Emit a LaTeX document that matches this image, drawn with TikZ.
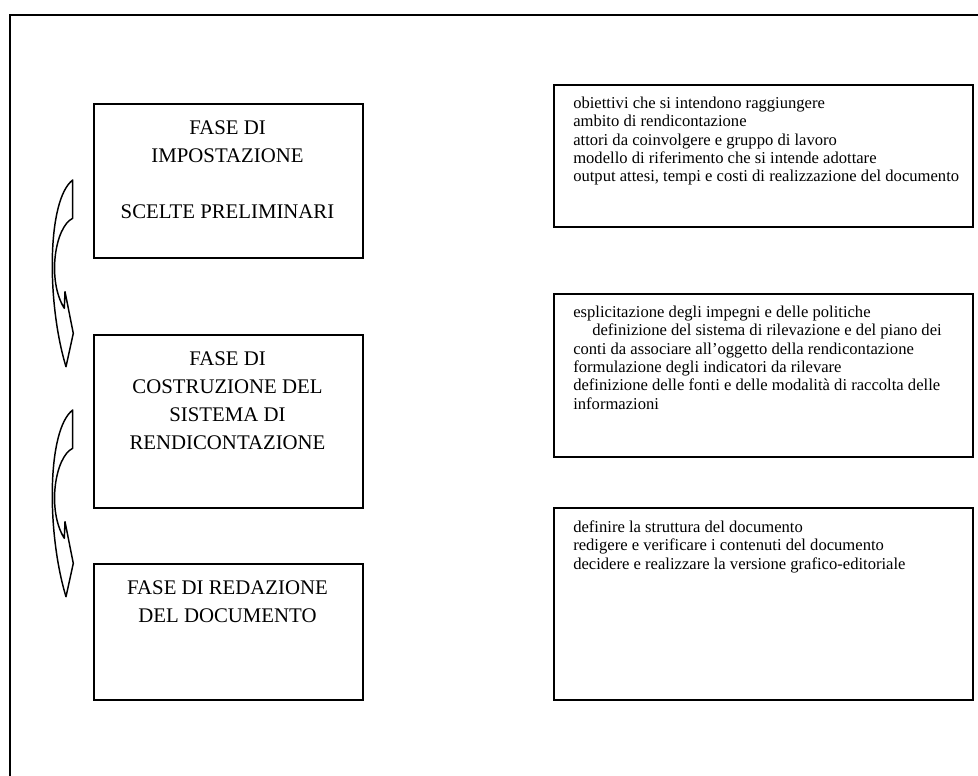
\documentclass[tikz,border=0pt]{standalone}
\usepackage{fontspec}
\setmainfont{Liberation Serif}
\begin{document}
\begin{tikzpicture}[x=0.75pt,y=-0.75pt,
  phase/.style={draw, line width=1.4pt, anchor=north west, inner sep=0pt, minimum width=201.75pt},
  phasetext/.style={anchor=north, align=center, inner sep=0pt, font=\fontsize{15.6}{21}\selectfont},
  detail/.style={draw, line width=1.4pt, anchor=north west, inner sep=0pt, minimum width=314.25pt},
  detailtext/.style={anchor=north west, align=left, inner sep=0pt, font=\fontsize{12.45}{13.75}\selectfont},
  swoosh/.style={draw, line width=1.1pt, fill=white, line join=round}]
\useasboundingbox (0,0) rectangle (978,775);
% page frame, open to the right and bottom
\begin{scope}
  \clip (0,0) rectangle (978,775);
  \draw[line width=1.4pt] (10,800) -- (10,15) -- (1000,15);
\end{scope}

% phases
\node[phase, minimum height=115.5pt] (p1) at (93,103) {};
\node[phase, minimum height=129.75pt] (p2) at (93,334) {};
\node[phase, minimum height=102pt] (p3) at (93,563) {};
\node[phasetext] (t1) at (227.5,120) {FASE DI\\IMPOSTAZIONE\\[21pt]SCELTE PRELIMINARI};
\node[phasetext] (t2) at (227.5,351) {FASE DI\\COSTRUZIONE DEL\\SISTEMA DI\\RENDICONTAZIONE};
\node[phasetext] (t3) at (227.5,580) {FASE DI REDAZIONE\\DEL DOCUMENTO};

% details of each phase
\node[detail, minimum height=106.5pt] (d1) at (553,84) {};
\node[detail, minimum height=122.25pt] (d2) at (553,293) {};
\node[detail, minimum height=144pt] (d3) at (553,507) {};
\node[detailtext] (e1) at (573,96.7) {obiettivi che si intendono raggiungere\\
ambito di rendicontazione\\
attori da coinvolgere e gruppo di lavoro\\
modello di riferimento che si intende adottare\\
output attesi, tempi e costi di realizzazione del documento};
\node[detailtext] (e2) at (573,305.7) {esplicitazione degli impegni e delle politiche\\
\hspace*{14.25pt}definizione del sistema di rilevazione e del piano dei\\
conti da associare all’oggetto della rendicontazione\\
formulazione degli indicatori da rilevare\\
definizione delle fonti e delle modalità di raccolta delle\\
informazioni};
\node[detailtext] (e3) at (573,520.7) {definire la struttura del documento\\
redigere e verificare i contenuti del documento\\
decidere e realizzare la versione grafico-editoriale};

% curved arrows between the phases
\foreach \dy in {0,230} {
  \begin{scope}[shift={(0,\dy)}]
    \draw[swoosh] (72.7,180) -- (72.7,218.3)
      .. controls (55,226.7) and (46.7,280) .. (64.3,308.3)
      -- (65,291.7) -- (73.3,333.3) -- (66,366.7)
      .. controls (46.7,303.3) and (46.7,200) .. (72.7,180) -- cycle;
  \end{scope}
}
\end{tikzpicture}
\end{document}
